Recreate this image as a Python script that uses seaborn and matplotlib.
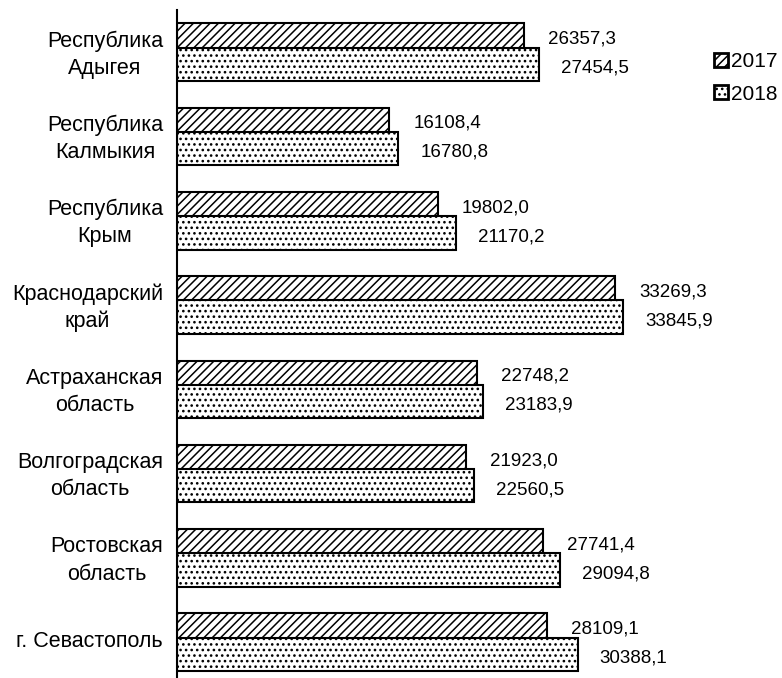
import pandas as pd
import seaborn as sns
import matplotlib.pyplot as plt
import matplotlib.transforms as mtransforms
from matplotlib.patches import Patch

# Data
regions = ["Республика\nАдыгея", "Республика\nКалмыкия", "Республика\nКрым",
           "Краснодарский\nкрай", "Астраханская\nобласть", "Волгоградская\nобласть",
           "Ростовская\nобласть", "г. Севастополь"]
values_2017 = [26357.3, 16108.4, 19802.0, 33269.3, 22748.2, 21923.0, 27741.4, 28109.1]
values_2018 = [27454.5, 16780.8, 21170.2, 33845.9, 23183.9, 22560.5, 29094.8, 30388.1]
years = ["2017", "2018"]

sns.set_theme(style="white")
plt.rcParams['font.family'] = ['Liberation Sans', 'DejaVu Sans']
plt.rcParams['text.color'] = 'black'
plt.rcParams['ytick.color'] = 'black'
plt.rcParams['hatch.linewidth'] = 1.1
plt.rcParams['hatch.color'] = 'black'

HATCH17, HATCH18 = "////", "..."

# bars of one region overlap a little (2018 drawn over 2017)
offset = 0.144
pos = list(range(len(regions)))
df17 = pd.DataFrame({"pos": [p - offset for p in pos], "value": values_2017})
df18 = pd.DataFrame({"pos": [p + offset for p in pos], "value": values_2018})

fig = plt.figure(figsize=(7.82, 6.78), dpi=100)
W, H = 782, 678
ax = fig.add_axes([177 / W, (H - 10 - 8 * 84.3) / H, 500 / W, 8 * 84.3 / H])

sns.barplot(data=df17, x="value", y="pos", orient="y", native_scale=True, width=0.396,
            color="white", edgecolor="black", linewidth=1.5, ax=ax)
n17 = len(ax.patches)
sns.barplot(data=df18, x="value", y="pos", orient="y", native_scale=True, width=0.396,
            color="white", edgecolor="black", linewidth=1.5, ax=ax)
for i, p in enumerate(ax.patches):
    p.set_facecolor("white")
    p.set_hatch(HATCH17 if i < n17 else HATCH18)

# value labels with decimal comma
fmt = lambda v: f"{v:.1f}".replace(".", ",")
for p, v in zip(pos, values_2017):
    ax.annotate(fmt(v), (v, p - 0.155), xytext=(24, 0), textcoords="offset pixels",
                ha="left", va="center", fontsize=13.5, color="black")
for p, v in zip(pos, values_2018):
    ax.annotate(fmt(v), (v, p + 0.19), xytext=(22, 0), textcoords="offset pixels",
                ha="left", va="center", fontsize=13.5, color="black")

ax.set_xlim(0, 500 / 0.01318)
ax.set_ylim(len(regions) - 0.5, -0.5)
ax.set_yticks(pos)
ax.set_yticklabels(regions, fontsize=15.5, multialignment="center", linespacing=1.38,
                   color="black")
ax.tick_params(axis="y", length=0, pad=10)
# nudge category labels up a little
shift = mtransforms.ScaledTranslation(0, 3 / 100, fig.dpi_scale_trans)
for lbl in ax.get_yticklabels():
    lbl.set_transform(lbl.get_transform() + shift)
ax.set_xticks([])
ax.set_xlabel("")
ax.set_ylabel("")
for side in ["top", "right", "bottom"]:
    ax.spines[side].set_visible(False)
ax.spines["left"].set_linewidth(1.5)
ax.spines["left"].set_color("black")

handles = [Patch(facecolor="white", edgecolor="black", linewidth=2, hatch=HATCH17),
           Patch(facecolor="white", edgecolor="black", linewidth=2, hatch=HATCH18)]
fig.legend(handles, years, loc="upper left", bbox_to_anchor=(714 / W, 1 - 52 / H),
           frameon=False, fontsize=15, handlelength=0.65, handleheight=0.65,
           handletextpad=0.15, labelspacing=0.65, borderpad=0, borderaxespad=0)

plt.savefig("out.png", dpi=100)
